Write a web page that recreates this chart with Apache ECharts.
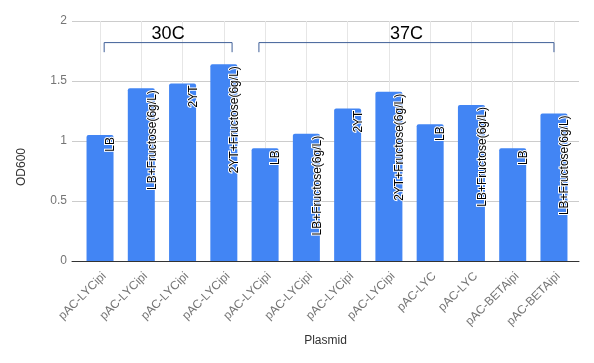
<!DOCTYPE html>
<html>
<head>
<meta charset="utf-8">
<script src="https://cdn.jsdelivr.net/npm/echarts@6/dist/echarts.min.js"></script>
<style>html,body{margin:0;padding:0;background:#fff}#c{width:594px;height:363px}</style>
</head>
<body>
<div id="c"></div>
<script>
const categories = ['pAC-LYCipi','pAC-LYCipi','pAC-LYCipi','pAC-LYCipi','pAC-LYCipi','pAC-LYCipi','pAC-LYCipi','pAC-LYCipi','pAC-LYC','pAC-LYC','pAC-BETAipi','pAC-BETAipi'];
const od600 = [1.05,1.44,1.48,1.64,0.94,1.06,1.27,1.41,1.14,1.30,0.94,1.23];
const media = ['LB','LB+Fructose(6g/L)','2YT','2YT+Fructose(6g/L)','LB','LB+Fructose(6g/L)','2YT','2YT+Fructose(6g/L)','LB','LB+Fructose(6g/L)','LB','LB+Fructose(6g/L)'];
const yMin = 0, yMax = 2, yStep = 0.5;
const bracketLabels = ['30C','37C'];
const bracketStart = [0.1, 3.85];
const bracketEnd = [3.2, 11.0];
const bracketLevel = [1.82, 1.82];
const bracketFoot = [1.74, 1.74];

const FONT = '"Liberation Sans", Arial, sans-serif';
const chart = echarts.init(document.getElementById('c'), null, {renderer:'canvas'});

const bracketData = bracketLabels.map((t,i)=>[0, bracketStart[i], bracketEnd[i], bracketLevel[i], bracketFoot[i], t]);

chart.setOption({
  animation:false,
  backgroundColor:'#fff',
  grid:[
    {left:79.4, right:19.4, top:21, bottom:102},
    {left:72, right:15, top:21, bottom:102}
  ],
  xAxis:[
    {gridIndex:0, type:'category', data:categories,
     axisLine:{show:false}, axisTick:{show:false},
     splitLine:{show:true, alignWithLabel:true, lineStyle:{color:'#e6e6e6', width:1}},
     axisLabel:{rotate:45, margin:9, verticalAlign:'top', color:'#757575', fontFamily:FONT, fontSize:12, interval:0}
    },
    {gridIndex:1, type:'value', min:0, max:1,
     axisLine:{show:true, onZero:false, lineStyle:{color:'#333', width:1}},
     axisTick:{show:false}, axisLabel:{show:false}, splitLine:{show:false},
     name:'Plasmid', nameLocation:'middle', nameGap:74,
     nameTextStyle:{color:'#333', fontFamily:FONT, fontSize:12}
    }
  ],
  yAxis:[
    {gridIndex:0, type:'value', min:yMin, max:yMax, interval:yStep,
     axisLine:{show:false}, axisTick:{show:false}, axisLabel:{show:false}, splitLine:{show:false}},
    {gridIndex:1, type:'value', min:yMin, max:yMax, interval:yStep,
     axisLine:{show:false}, axisTick:{show:false},
     axisLabel:{color:'#757575', fontFamily:FONT, fontSize:12, margin:5},
     splitLine:{show:true, lineStyle:{color:'#cccccc', width:1}},
     name:'OD600', nameLocation:'middle', nameGap:44,
     nameTextStyle:{color:'#333', fontFamily:FONT, fontSize:12, padding:[0,52,0,0]}
    }
  ],
  series:[
    {type:'bar', xAxisIndex:0, yAxisIndex:0, data:od600, barWidth:27,
     itemStyle:{color:'#4285f4', borderRadius:[2,2,0,0]},
     label:{show:true, position:'insideTop', distance:2, rotate:90, align:'right', verticalAlign:'middle',
       offset:[0,11],
       formatter:p=>media[p.dataIndex],
       color:'#000', fontFamily:FONT, fontSize:12, textBorderColor:'#fff', textBorderWidth:2},
     z:3
    },
    {type:'custom', xAxisIndex:0, yAxisIndex:0, data:bracketData, z:5, silent:true,
     encode:{x:0, y:3},
     renderItem:function(params, api){
       const base = api.coord([0, 0]);
       const bw = api.size([1,0])[0];
       const x1 = base[0] + api.value(1)*bw;
       const x2 = base[0] + api.value(2)*bw;
       const yL = api.coord([0, api.value(3)])[1];
       const yF = api.coord([0, api.value(4)])[1];
       const t = bracketData[params.dataIndex][5];
       return {type:'group', children:[
         {type:'polyline', shape:{points:[[x1,yF],[x1,yL],[x2,yL],[x2,yF]]},
          style:{stroke:'#3f5f98', lineWidth:1, fill:null}},
         {type:'text', x:(x1+x2)/2, y:yL-9,
          style:{text:t, fill:'#000', font:'18px '+FONT, textAlign:'center', textVerticalAlign:'middle'}}
       ]};
     }
    }
  ]
});
</script>
</body>
</html>
